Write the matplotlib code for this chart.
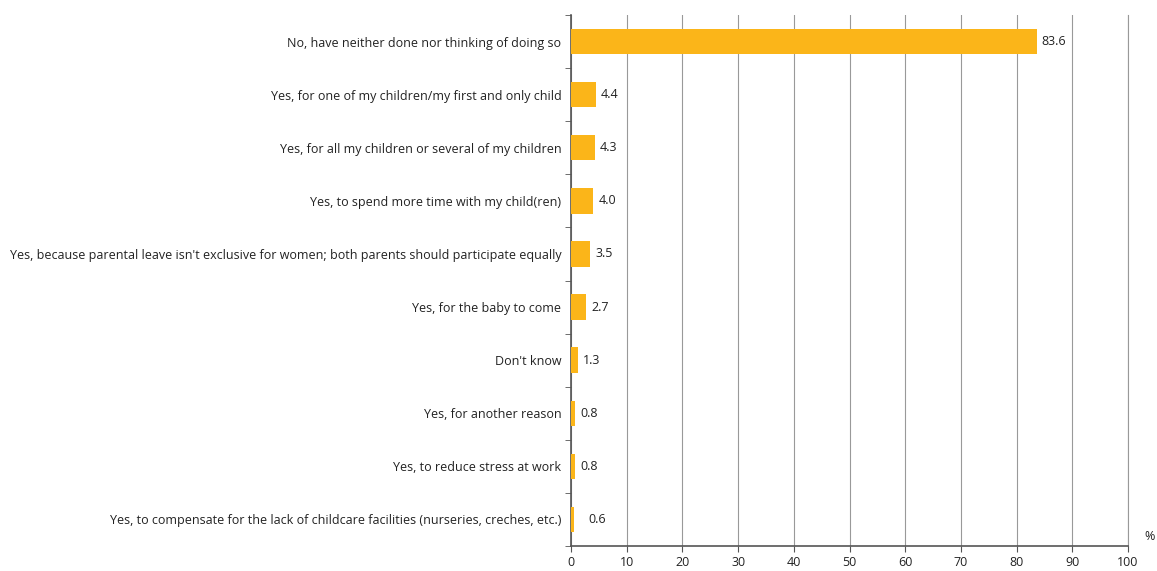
import matplotlib.pyplot as plt
import numpy as np

### DATA ###
categories = [
    "No, have neither done nor thinking of doing so",
    "Yes, for one of my children/my first and only child",
    "Yes, for all my children or several of my children",
    "Yes, to spend more time with my child(ren)",
    "Yes, because parental leave isn't exclusive for women; both parents should participate equally",
    "Yes, for the baby to come",
    "Don't know",
    "Yes, for another reason",
    "Yes, to reduce stress at work",
    "Yes, to compensate for the lack of childcare facilities (nurseries, creches, etc.)",
]
values = [83.6, 4.4, 4.3, 4.0, 3.5, 2.7, 1.3, 0.8, 0.8, 0.6]
label_offsets = [0.9, 0.9, 0.9, 0.9, 0.9, 0.9, 0.9, 0.9, 0.9, 2.5]
x_ticks = [0, 10, 20, 30, 40, 50, 60, 70, 80, 90, 100]

plt.rcParams['font.family'] = ['Open Sans', 'DejaVu Sans']

### PLOT ###
fig = plt.figure(figsize=(11.57, 5.71), dpi=100)
ax = fig.add_axes([571/1157, 25/571, (1128-571)/1157, (546-15)/571])

y = np.arange(len(categories))
ax.barh(y, values, height=0.48, color='#fbb519', zorder=3)

for yi, v, off in zip(y, values, label_offsets):
    ax.text(v + off, yi, f"{v:.1f}", va='center', ha='left', fontsize=9, color='#222222')

ax.set_ylim(len(categories) - 0.5, -0.5)
ax.set_xlim(0, 100)
ax.set_yticks(y)
ax.set_yticklabels(categories, fontsize=9, color='#222222')
ax.tick_params(axis='y', which='major', length=0, pad=7)
ax.set_yticks(np.arange(-0.5, len(categories)), minor=True)
ax.tick_params(axis='y', which='minor', length=4, color='#555555')

ax.set_xticks(x_ticks)
ax.set_xticklabels([str(t) for t in x_ticks], fontsize=9, color='#222222')
ax.tick_params(axis='x', length=4, color='#555555', pad=3)

ax.grid(axis='x', color='#999999', linewidth=0.8, zorder=0)
# right-most gridline sits on the axes edge, keep it fully visible
ax.axvline(x_ticks[-1], color='#999999', linewidth=0.8, zorder=0, clip_on=False)
for s in ['top', 'right']:
    ax.spines[s].set_visible(False)
ax.spines['left'].set_color('#555555')
ax.spines['bottom'].set_color('#555555')
ax.spines['left'].set_linewidth(1.2)
ax.spines['bottom'].set_linewidth(1.2)

fig.text(1144/1157, 1 - 537/571, "%", fontsize=9, color='#222222', va='center', ha='left')

fig.savefig('out.png', dpi=100)
